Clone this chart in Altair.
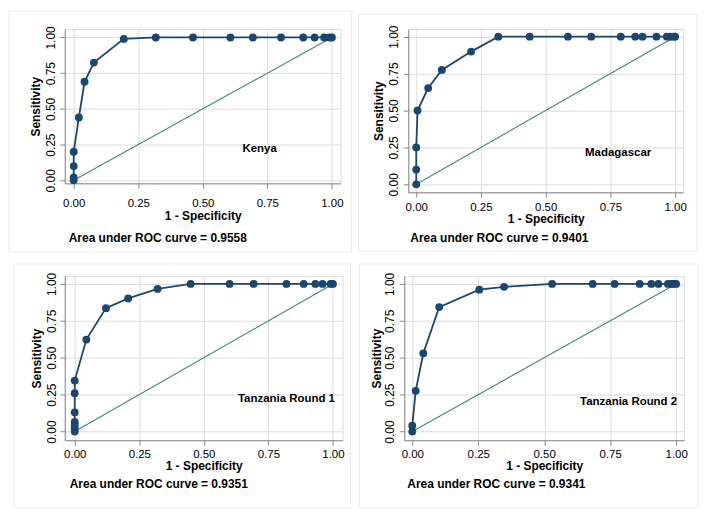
import altair as alt
import pandas as pd

# ---------------- data ----------------
panel_names = ["Kenya", "Madagascar", "Tanzania Round 1", "Tanzania Round 2"]
auc_values = ["0.9558", "0.9401", "0.9351", "0.9341"]

kenya_fpr = [0, 0, 0, 0, 0.02, 0.042, 0.078, 0.194, 0.318, 0.462, 0.607, 0.694, 0.803, 0.889, 0.933, 0.970, 0.990, 1.0]
kenya_sens = [0, 0.02, 0.10, 0.20, 0.44, 0.69, 0.824, 0.99, 1, 1, 1, 1, 1, 1, 1, 1, 1, 1]

madagascar_fpr = [0, 0, 0, 0.005, 0.046, 0.099, 0.212, 0.317, 0.438, 0.586, 0.676, 0.790, 0.846, 0.874, 0.928, 0.968, 0.981, 0.994, 1.0]
madagascar_sens = [0, 0.10, 0.25, 0.50, 0.652, 0.775, 0.899, 1, 1, 1, 1, 1, 1, 1, 1, 1, 1, 1, 1]

tz1_fpr = [0, 0, 0, 0, 0, 0, 0, 0.045, 0.121, 0.207, 0.321, 0.449, 0.600, 0.693, 0.820, 0.887, 0.932, 0.960, 0.991, 1.0]
tz1_sens = [0, 0.02, 0.045, 0.065, 0.13, 0.26, 0.345, 0.623, 0.836, 0.902, 0.966, 1, 1, 1, 1, 1, 1, 1, 1, 1]

tz2_fpr = [0, 0, 0.013, 0.042, 0.102, 0.254, 0.348, 0.530, 0.684, 0.767, 0.862, 0.906, 0.933, 0.969, 0.981, 0.990, 1.0]
tz2_sens = [0, 0.04, 0.276, 0.53, 0.843, 0.961, 0.98, 1, 1, 1, 1, 1, 1, 1, 1, 1, 1]

curves = [(kenya_fpr, kenya_sens), (madagascar_fpr, madagascar_sens),
          (tz1_fpr, tz1_sens), (tz2_fpr, tz2_sens)]

label_x = [0.72, 0.78, 0.82, 0.82]
label_y = [0.216, 0.21, 0.22, 0.20]

diag_x = [0, 1]
diag_y = [0, 1]
tick_values = [0, 0.25, 0.5, 0.75, 1.0]

# ---------------- styling / layout ----------------
FONT = "Liberation Sans"
NAVY = "#1a476f"
GREEN = "#3e8a6e"
FRAME = "#ececec"

layout = [
    dict(W=277, H=155, xdom=[-0.0347, 1.0336], ydom=[-0.0209, 1.0592], xlp=9, xtp=2, ylp=2, ytp=2,
         auc=(4, 210), frame=(-56, 288, -18, 224), bounds=(-56, 291, -18, 230)),
    dict(W=276, H=164, xdom=[-0.0308, 1.0308], ydom=[-0.054, 1.052], xlp=4, xtp=1, ylp=2.5, ytp=2,
         auc=(2, 210), frame=(-50, 290, -15, 223), bounds=(-52, 293, -19, 229)),
    dict(W=279, H=165, xdom=[-0.0386, 1.0374], ydom=[-0.0587, 1.054], xlp=3, xtp=1, ylp=1, ytp=2,
         auc=(5, 209), frame=(-51, 287, -12, 233), bounds=(-55, 292, -16, 238)),
    dict(W=281, H=165, xdom=[-0.0302, 1.0302], ydom=[-0.0587, 1.054], xlp=3, xtp=1, ylp=3, ytp=0,
         auc=(3, 209), frame=(-45, 295, -12, 233), bounds=(-47, 298, -16, 238)),
]


def panel(k):
    fpr, sens = curves[k]
    L = layout[k]
    df = pd.DataFrame({"fpr": fpr, "sens": sens, "i": list(range(len(fpr)))})
    xs = alt.Scale(domain=L["xdom"], nice=False, zero=False)
    ys = alt.Scale(domain=L["ydom"], nice=False, zero=False)
    xax = alt.Axis(values=tick_values, tickCount=5, format=".2f", title="1 - Specificity",
                   labelPadding=L["xlp"], titlePadding=L["xtp"], labelFlush=False,
                   labelOverlap=False, labelFontSize=11.5, titleFontSize=12)
    yax = alt.Axis(values=tick_values, tickCount=5, format=".2f", title="Sensitivity",
                   labelAngle=-90, labelAlign="center", labelBaseline="bottom",
                   labelPadding=L["ylp"], titlePadding=L["ytp"], labelFlush=False,
                   labelOverlap=False, labelFontSize=12, titleFontSize=12)

    diag = alt.Chart(pd.DataFrame({"fpr": diag_x, "sens": diag_y})).mark_line(
        color=GREEN, strokeWidth=1.1
    ).encode(
        x=alt.X("fpr:Q", scale=xs, axis=xax),
        y=alt.Y("sens:Q", scale=ys, axis=yax),
    )
    line = alt.Chart(df).mark_line(color=NAVY, strokeWidth=1.8).encode(
        x="fpr:Q", y="sens:Q", order="i:Q"
    )
    pts = alt.Chart(df).mark_circle(color=NAVY, opacity=1, size=62).encode(
        x="fpr:Q", y="sens:Q"
    )
    lab = alt.Chart(pd.DataFrame({"fpr": [label_x[k]], "sens": [label_y[k]],
                                  "t": [panel_names[k]]})).mark_text(
        font=FONT, fontWeight="bold", fontSize=11.5, align="center", baseline="middle",
        color="black"
    ).encode(x="fpr:Q", y="sens:Q", text="t:N")

    auc = alt.Chart(pd.DataFrame({"t": ["Area under ROC curve = " + auc_values[k]]})).mark_text(
        font=FONT, fontWeight="bold", fontSize=12, align="left", baseline="middle",
        color="black"
    ).encode(text="t:N", x=alt.value(L["auc"][0]), y=alt.value(L["auc"][1]))

    fx0, fx1, fy0, fy1 = L["frame"]
    frame = alt.Chart(pd.DataFrame({"a": [0]})).mark_rect(
        fillOpacity=0, stroke=FRAME, strokeWidth=1
    ).encode(x=alt.value(fx0), x2=alt.value(fx1), y=alt.value(fy0), y2=alt.value(fy1))

    bx0, bx1, by0, by1 = L["bounds"]
    bounds = alt.Chart(pd.DataFrame({"a": [0]})).mark_rect(opacity=0).encode(
        x=alt.value(bx0), x2=alt.value(bx1), y=alt.value(by0), y2=alt.value(by1))

    return alt.layer(bounds, frame, diag, line, pts, lab, auc).properties(
        width=L["W"], height=L["H"])


row1 = alt.hconcat(panel(0), panel(1), spacing=0)
row2 = alt.hconcat(panel(2), panel(3), spacing=0)

chart = alt.vconcat(row1, row2, spacing=0).properties(padding=0).configure_view(
    stroke=None
).configure_axis(
    labelFont=FONT, titleFont=FONT, labelFontWeight="bold", titleFontWeight="bold",
    labelFontSize=12, titleFontSize=12, labelColor="black", titleColor="black",
    domainColor="#333333", tickColor="#333333", domainWidth=1, tickWidth=1, tickSize=5,
    grid=True, gridColor="#e2ebee", gridWidth=1, labelOverlap=False
).configure(background="white")

chart.save("out.html", embed_options={"renderer": "svg", "actions": False})
